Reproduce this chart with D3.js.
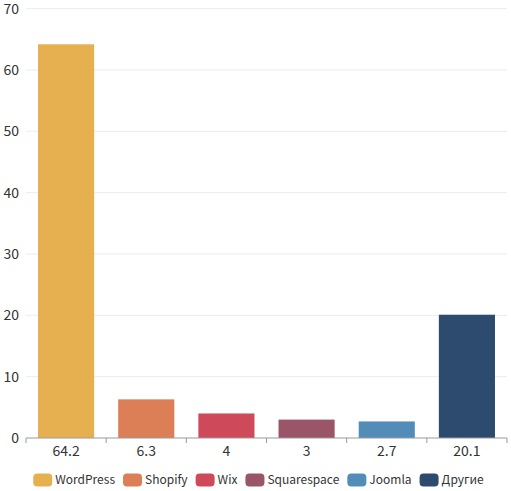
<!DOCTYPE html>
<html><head><meta charset="utf-8">
<script src="https://cdn.jsdelivr.net/npm/d3@7"></script>
<style>body{margin:0;background:#fff;}svg{display:block;font-family:"Noto Sans CJK SC","Noto Sans",sans-serif;}</style>
</head><body>
<svg id="c" width="511" height="491"></svg>
<script>
const categories = ["WordPress","Shopify","Wix","Squarespace","Joomla","Другие"];
const values = [64.2, 6.3, 4, 3, 2.7, 20.1];
const colors = ["#e6b050","#dc7e56","#ce4a5b","#9b5569","#528dba","#2c4b6e"];
const yTicks = [0,10,20,30,40,50,60,70];

const svg = d3.select("#c");
const mLeft = 26, mRight = 507, mTop = 8.7, mBottom = 438;
const x = d3.scaleBand().domain(d3.range(categories.length)).range([mLeft, mRight]).paddingInner(0.3).paddingOuter(0.15);
const xb = d3.scaleBand().domain(d3.range(categories.length)).range([mLeft, mRight]);
const y = d3.scaleLinear().domain([0,70]).range([mBottom, mTop]);

// grid
svg.append("g").selectAll("line").data(yTicks.filter(d=>d>0)).join("line")
  .attr("x1", mLeft).attr("x2", mRight).attr("y1", d=>y(d)).attr("y2", d=>y(d))
  .attr("stroke","#ececec").attr("stroke-width",1);

// y labels
svg.append("g").selectAll("text").data(yTicks).join("text")
  .attr("x", 19).attr("y", d=>y(d)).attr("dy","0.35em").attr("text-anchor","end")
  .attr("font-size",14).attr("fill","#333").text(d=>d);

// bars
svg.append("g").selectAll("rect").data(values).join("rect")
  .attr("x",(d,i)=>x(i)).attr("width",x.bandwidth())
  .attr("y",d=>y(d)).attr("height",d=>y(0)-y(d))
  .attr("fill",(d,i)=>colors[i]);

// x axis
const xa = svg.append("g").attr("transform",`translate(0,${mBottom})`);
xa.append("line").attr("x1",mLeft).attr("x2",mRight).attr("stroke","#9a9a9a").attr("stroke-width",1);
const tickPos = d3.range(categories.length+1).map(i=> i<categories.length ? xb(i) : mRight);
xa.selectAll(".t").data(tickPos).join("line").attr("class","t")
  .attr("x1",d=>d).attr("x2",d=>d).attr("y1",0).attr("y2",5).attr("stroke","#9a9a9a");
xa.selectAll("text").data(values).join("text")
  .attr("x",(d,i)=>xb(i)+xb.bandwidth()/2).attr("y",13).attr("dy","0.35em")
  .attr("text-anchor","middle").attr("font-size",14).attr("fill","#333").text(d=>d);

// legend
const lg = svg.append("g");
const iw = 19, ih = 13, gap1 = 3, gap2 = 8;
let cx = 0;
categories.forEach((c,i)=>{
  const g = lg.append("g");
  g.append("rect").attr("x",0).attr("y",-ih/2).attr("width",iw).attr("height",ih).attr("rx",4).attr("fill",colors[i]);
  const t = g.append("text").attr("x",iw+gap1).attr("y",0).attr("dy","0.35em").attr("font-size",12).attr("fill","#333").text(c);
  const w = iw+gap1+t.node().getComputedTextLength();
  g.attr("transform",`translate(${cx},0)`);
  cx += w + gap2;
});
const total = cx - gap2;
lg.attr("transform",`translate(${258.5-total/2},480)`);
</script>
</body></html>
